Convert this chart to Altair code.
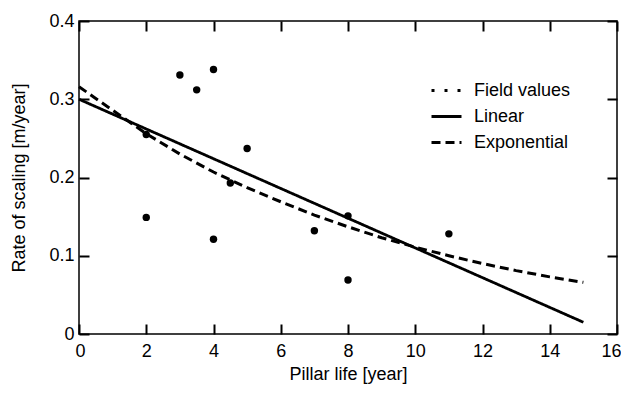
import altair as alt
import pandas as pd

# Field measurements
field_x = [2, 2, 3, 3.5, 4, 4, 4.5, 5, 7, 8, 8, 11]
field_y = [0.255, 0.149, 0.331, 0.312, 0.338, 0.121, 0.193, 0.237, 0.132, 0.151, 0.069, 0.128]

# Fitted lines
lin_x = [0, 15]
lin_y = [0.300, 0.015]
exp_x = [0, 1, 2, 3, 4, 5, 6, 7, 8, 9, 10, 11, 12, 13, 14, 15]
exp_y = [0.316, 0.286, 0.256, 0.230, 0.207, 0.187, 0.169, 0.152, 0.137, 0.123,
         0.111, 0.100, 0.090, 0.081, 0.073, 0.066]

series_names = ["Field values", "Linear", "Exponential"]
x_ticks = [0, 2, 4, 6, 8, 10, 12, 14, 16]
y_ticks = [0, 0.1, 0.2, 0.3, 0.4]

pts = pd.DataFrame({"x": field_x, "y": field_y})
lin_df = pd.DataFrame({"x": lin_x, "y": lin_y, "series": "Linear"})
exp_df = pd.DataFrame({"x": exp_x, "y": exp_y, "series": "Exponential"})

FONT = "Liberation Sans"
xs = alt.Scale(domain=[0, 16], nice=False, zero=False)
ys = alt.Scale(domain=[0, 0.4], nice=False)

common = dict(domain=False, grid=False, tickColor="black", tickWidth=2, tickSize=10,
              offset=-10, labelColor="black", titleColor="black", labelFontSize=18,
              titleFontSize=18, labelFont=FONT, titleFont=FONT, titleFontWeight="normal")

points = alt.Chart(pts).mark_circle(size=55, color="black", opacity=1).encode(
    x=alt.X("x:Q", scale=xs,
            axis=alt.Axis(orient="bottom", values=x_ticks, title="Pillar life [year]",
                          labelPadding=8, titlePadding=5, labelFlush=True,
                          labelFlushOffset=4, **common)),
    y=alt.Y("y:Q", scale=ys,
            axis=alt.Axis(orient="left", values=y_ticks, format=".1~f",
                          title="Rate of scaling [m/year]", labelPadding=5,
                          titlePadding=20, labelFlush=False, **common)),
)

dash = alt.StrokeDash(
    "series:N",
    scale=alt.Scale(domain=series_names, range=[[3, 10], [1, 0], [9, 5]]),
    legend=alt.Legend(title=None, orient="none", legendX=351, legendY=53, symbolType="stroke",
                      symbolSize=900, symbolStrokeWidth=3, labelFontSize=18, labelFont=FONT,
                      labelColor="black", labelOffset=11, rowPadding=-11,
                      symbolStrokeColor="black"),
)

linear = alt.Chart(lin_df).mark_line(color="black", strokeWidth=2.8).encode(
    x=alt.X("x:Q", scale=xs,
            axis=alt.Axis(orient="top", values=x_ticks, labels=False, title=None, **common)),
    y=alt.Y("y:Q", scale=ys,
            axis=alt.Axis(orient="right", values=y_ticks, labels=False, title=None, **common)),
    strokeDash=dash,
)

expo = alt.Chart(exp_df).mark_line(color="black", strokeWidth=3).encode(
    x=alt.X("x:Q", scale=xs, axis=None),
    y=alt.Y("y:Q", scale=ys, axis=None),
    strokeDash=dash,
)

chart = alt.layer(points, linear, expo).resolve_axis(x="independent", y="independent").properties(
    width=538, height=313,
    autosize=alt.AutoSizeParams(type="none"),
    padding={"left": 71, "top": 13, "right": 4, "bottom": 52},
    background="white",
).configure_view(stroke="black", strokeWidth=1.5)

chart.save("out.html", embed_options={"renderer": "svg", "actions": False})
